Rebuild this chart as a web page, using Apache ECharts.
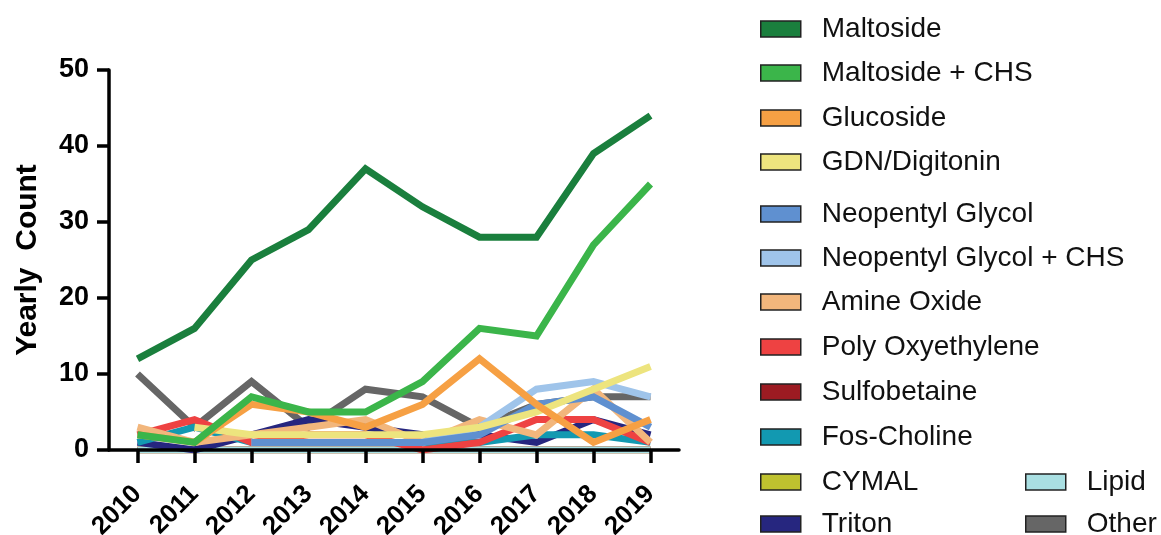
<!DOCTYPE html>
<html>
<head>
<meta charset="utf-8">
<script src="https://cdn.jsdelivr.net/npm/echarts@6/dist/echarts.min.js"></script>
<style>
  html, body { margin: 0; padding: 0; background: #fff; }
  #chart { width: 1161px; height: 535px; }
</style>
</head>
<body>
<div id="chart"></div>
<script>
// years on the x axis
const years = ['2010', '2011', '2012', '2013', '2014', '2015', '2016', '2017', '2018', '2019']

// yearly counts per detergent class
const maltoside = [12, 16, 25, 29, 37, 32, 28, 28, 39, 44]
const maltosideChs = [2, 1, 7, 5, 5, 9, 16, 15, 27, 35]
const glucoside = [2, 1, 6, 5, 3, 6, 12, 6, 1, 4]
const gdnDigitonin = [null, 3, 2, 2, 2, 2, 3, 5, 8, 11]
const neopentylGlycol = [null, null, 1, 1, 1, 1, 2, 6, 7, 3]
const neopentylGlycolChs = [null, null, 1, 1, 1, 1, 3, 8, 9, 7]
const amineOxide = [3, 1, 2, 3, 4, 1, 4, 2, 8, 1]
const polyOxyethylene = [2, 4, 1, 2, 2, 0, 1, 4, 4, 1]
const sulfobetaine = [0, 0, 0, 0, 0, 0, 0, 0, 0, 0]
const fosCholine = [1, 3, 1, 1, 1, 1, 1, 2, 2, 1]
const cymal = [0, 0, 0, 0, 0, 0, 0, 0, 0, 0]
const triton = [1, 0, 2, 4, 3, 2, 2, 1, 4, 2]
const lipid = [0, 0, 0, 0, 0, 0, 0, 0, 0, 0]
const other = [10, 3, 9, 3, 8, 7, 3, 6, 7, 7]

// y axis ticks
const yTicks = [0, 10, 20, 30, 40, 50]

// legend slot: [left, top] for each entry
const defs = [
  { name: 'Maltoside', data: maltoside, color: '#1a7f3d', pos: [760, 15] },
  { name: 'Maltoside + CHS', data: maltosideChs, color: '#3bb54a', pos: [760, 59] },
  { name: 'Glucoside', data: glucoside, color: '#f6a044', pos: [760, 104] },
  { name: 'GDN/Digitonin', data: gdnDigitonin, color: '#ede47e', pos: [760, 148] },
  { name: 'Neopentyl Glycol', data: neopentylGlycol, color: '#5f90d0', pos: [760, 200] },
  { name: 'Neopentyl Glycol + CHS', data: neopentylGlycolChs, color: '#9fc4ea', pos: [760, 244] },
  { name: 'Amine Oxide', data: amineOxide, color: '#f2b67c', pos: [760, 288] },
  { name: 'Poly Oxyethylene', data: polyOxyethylene, color: '#ee4242', pos: [760, 333] },
  { name: 'Sulfobetaine', data: sulfobetaine, color: '#9c1b22', pos: [760, 378], under: true },
  { name: 'Fos-Choline', data: fosCholine, color: '#1299b1', pos: [760, 423] },
  { name: 'CYMAL', data: cymal, color: '#bfc22f', pos: [760, 468], under: true },
  { name: 'Triton', data: triton, color: '#26267f', pos: [760, 510] },
  { name: 'Lipid', data: lipid, color: '#a9dfe2', pos: [1025, 468], under: true },
  { name: 'Other', data: other, color: '#666666', pos: [1025, 510] }
]

const font = 'Liberation Sans, Arial, sans-serif'

// first series should sit on top, so draw in reverse
// (the all-zero ones go underneath, lightest last)
const series = defs.slice().reverse().map(d => ({
  name: d.name,
  type: 'line',
  data: d.data,
  symbol: 'none',
  z: d.under ? (d.name === 'Lipid' ? 1.5 : 1) : 2,
  lineStyle: { width: 7, color: d.color, join: 'miter' },
  itemStyle: { color: d.color }
}))

const legend = defs.map(d => ({
  left: d.pos[0],
  top: d.pos[1],
  orient: 'vertical',
  icon: 'rect',
  itemWidth: 40,
  itemHeight: 16,
  padding: 0,
  itemStyle: { borderColor: '#222', borderWidth: 1.5 },
  textStyle: { fontFamily: font, fontSize: 28, lineHeight: 27, color: '#111', padding: [0, 0, 0, 16] },
  selectedMode: false,
  data: [d.name]
}))

const myChart = echarts.init(document.getElementById('chart'))
myChart.setOption({
  animation: false,
  legend,
  grid: { left: 109, top: 70, width: 570, height: 380, containLabel: false, outerBoundsMode: 'none' },
  xAxis: {
    type: 'category',
    data: years,
    boundaryGap: true,
    z: 5,
    axisLine: { lineStyle: { color: '#000', width: 3.5 } },
    axisTick: { show: true, interval: 0, alignWithLabel: true, length: 13, lineStyle: { color: '#000', width: 3.5 } },
    axisLabel: {
      rotate: 45,
      margin: 40,
      interval: 0,
      fontFamily: font,
      fontWeight: 'bold',
      fontSize: 26,
      color: '#000'
    }
  },
  yAxis: {
    type: 'value',
    min: yTicks[0],
    max: yTicks[yTicks.length - 1],
    interval: 10,
    name: 'Yearly  Count',
    nameLocation: 'middle',
    nameGap: 66,
    nameTextStyle: { fontFamily: font, fontWeight: 'bold', fontSize: 30, color: '#000' },
    z: 5,
    splitLine: { show: false },
    axisLine: { show: true, lineStyle: { color: '#000', width: 3.5 } },
    axisTick: { show: true, length: 12, lineStyle: { color: '#000', width: 3.5 } },
    axisLabel: {
      margin: 20,
      fontFamily: font,
      fontWeight: 'bold',
      fontSize: 27,
      color: '#000'
    }
  },
  series
})
</script>
</body>
</html>
